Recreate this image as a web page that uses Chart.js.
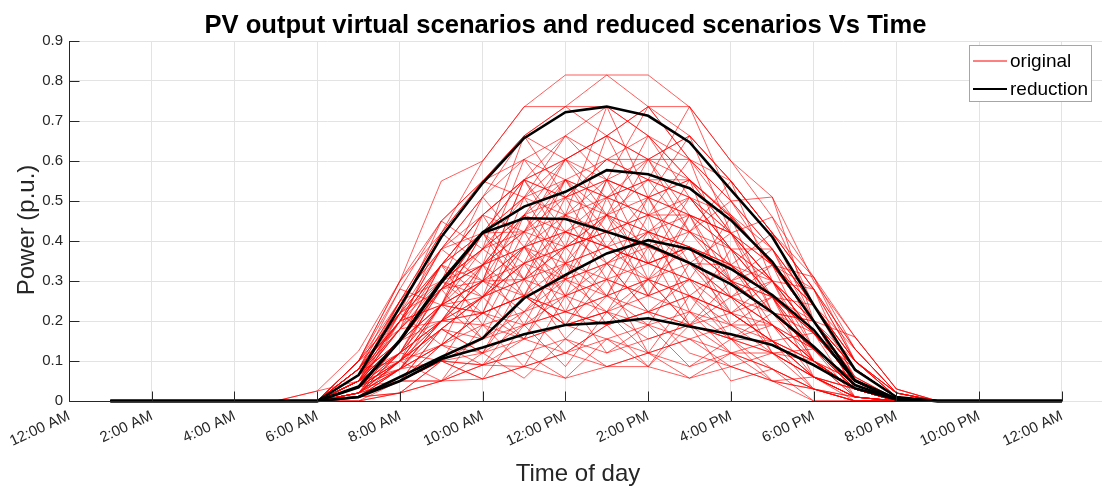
<!DOCTYPE html>
<html>
<head>
<meta charset="utf-8">
<script src="https://cdn.jsdelivr.net/npm/chart.js@4.4.1/dist/chart.umd.min.js"></script>
<style>
  html, body { margin: 0; padding: 0; background: #fff; overflow: hidden; }
  canvas { display: block; }
</style>
</head>
<body>
<canvas id="pv" width="1102" height="487"></canvas>
<script>
const FONT = "'Liberation Sans', Arial, Helvetica, sans-serif";
const AXIS_COLOR = "#262626";
const GRID_COLOR = "#e3e3e3";

const TITLE = "PV output virtual scenarios and reduced scenarios Vs Time";
const X_TITLE = "Time of day";
const Y_TITLE = "Power (p.u.)";

// hour of the day for every sample (1:00 AM ... 12:00 AM next day)
const HOURS = [1, 2, 3, 4, 5, 6, 7, 8, 9, 10, 11, 12, 13, 14, 15, 16, 17, 18, 19, 20, 21, 22, 23, 24];

const X_TICKS = [0, 2, 4, 6, 8, 10, 12, 14, 16, 18, 20, 22, 24];
const X_TICK_LABELS = ["12:00 AM", "2:00 AM", "4:00 AM", "6:00 AM", "8:00 AM", "10:00 AM", "12:00 PM",
  "2:00 PM", "4:00 PM", "6:00 PM", "8:00 PM", "10:00 PM", "12:00 AM"];
const Y_TICKS = [0, 0.1, 0.2, 0.3, 0.4, 0.5, 0.6, 0.7, 0.8, 0.9];
const X_MAX = 24.97; // axes run a bit past midnight, like the original figure

// reduced scenarios (black)
const REDUCTION = [
  [0, 0, 0, 0, 0, 0, 0.065, 0.235, 0.41, 0.545, 0.657, 0.722, 0.736, 0.713, 0.647, 0.528, 0.41, 0.24, 0.078, 0.01, 0, 0, 0, 0],
  [0, 0, 0, 0, 0, 0, 0.036, 0.153, 0.3, 0.422, 0.486, 0.523, 0.577, 0.567, 0.532, 0.452, 0.348, 0.2, 0.052, 0.005, 0, 0, 0, 0],
  [0, 0, 0, 0, 0, 0, 0.034, 0.15, 0.296, 0.42, 0.457, 0.455, 0.423, 0.39, 0.345, 0.292, 0.222, 0.136, 0.04, 0.004, 0, 0, 0, 0],
  [0, 0, 0, 0, 0, 0, 0.01, 0.06, 0.11, 0.157, 0.257, 0.315, 0.369, 0.402, 0.38, 0.33, 0.265, 0.178, 0.05, 0.005, 0, 0, 0, 0],
  [0, 0, 0, 0, 0, 0, 0.01, 0.05, 0.105, 0.134, 0.167, 0.19, 0.196, 0.207, 0.186, 0.167, 0.14, 0.09, 0.032, 0.004, 0, 0, 0, 0],
];

// virtual scenarios (red)
const ORIGINAL = [
  [0, 0, 0, 0, 0, 0, 0.1, 0.3, 0.55, 0.6, 0.735, 0.815, 0.815, 0.815, 0.735, 0.6, 0.51, 0.3, 0.16, 0.03, 0, 0, 0, 0],
  [0, 0, 0, 0, 0, 0.025, 0.125, 0.3, 0.45, 0.55, 0.663, 0.736, 0.815, 0.736, 0.663, 0.55, 0.42, 0.28, 0.13, 0.02, 0, 0, 0, 0],
  [0, 0, 0, 0, 0, 0, 0.08, 0.25, 0.42, 0.6, 0.736, 0.736, 0.663, 0.736, 0.736, 0.6, 0.46, 0.31, 0.16, 0.03, 0, 0, 0, 0],
  [0, 0, 0, 0, 0, 0, 0.065, 0.2, 0.38, 0.51, 0.604, 0.663, 0.736, 0.663, 0.604, 0.5, 0.38, 0.24, 0.1, 0.01, 0, 0, 0, 0],
  [0, 0, 0, 0, 0, 0, 0.05, 0.22, 0.34, 0.465, 0.553, 0.604, 0.663, 0.736, 0.604, 0.465, 0.34, 0.2, 0.08, 0.01, 0, 0, 0, 0],
  [0, 0, 0, 0, 0, 0, 0.1, 0.28, 0.45, 0.55, 0.604, 0.553, 0.604, 0.553, 0.553, 0.42, 0.3, 0.17, 0.05, 0, 0, 0, 0, 0],
  [0, 0, 0, 0, 0, 0, 0.035, 0.15, 0.3, 0.42, 0.509, 0.604, 0.553, 0.509, 0.465, 0.38, 0.26, 0.13, 0.03, 0, 0, 0, 0, 0],
  [0, 0, 0, 0, 0, 0, 0.02, 0.12, 0.24, 0.38, 0.465, 0.509, 0.604, 0.663, 0.553, 0.46, 0.34, 0.2, 0.06, 0.005, 0, 0, 0, 0],
  [0, 0, 0, 0, 0, 0, 0.05, 0.18, 0.28, 0.34, 0.423, 0.553, 0.509, 0.465, 0.509, 0.42, 0.3, 0.17, 0.05, 0, 0, 0, 0, 0],
  [0, 0, 0, 0, 0, 0, 0.08, 0.2, 0.34, 0.465, 0.553, 0.509, 0.465, 0.423, 0.385, 0.3, 0.22, 0.13, 0.03, 0, 0, 0, 0, 0],
  [0, 0, 0, 0, 0, 0, 0.01, 0.08, 0.2, 0.3, 0.385, 0.465, 0.553, 0.604, 0.663, 0.55, 0.42, 0.28, 0.1, 0.02, 0, 0, 0, 0],
  [0, 0, 0, 0, 0, 0, 0.035, 0.1, 0.18, 0.26, 0.344, 0.423, 0.465, 0.553, 0.509, 0.42, 0.34, 0.24, 0.08, 0.01, 0, 0, 0, 0],
  [0, 0, 0, 0, 0, 0, 0.065, 0.15, 0.24, 0.3, 0.304, 0.385, 0.423, 0.385, 0.423, 0.34, 0.26, 0.17, 0.05, 0.005, 0, 0, 0, 0],
  [0, 0, 0, 0, 0, 0, 0.02, 0.1, 0.14, 0.22, 0.263, 0.344, 0.385, 0.344, 0.304, 0.26, 0.19, 0.1, 0.03, 0, 0, 0, 0, 0],
  [0, 0, 0, 0, 0, 0, 0.05, 0.12, 0.2, 0.19, 0.223, 0.263, 0.304, 0.344, 0.385, 0.3, 0.22, 0.13, 0.05, 0, 0, 0, 0, 0],
  [0, 0, 0, 0, 0, 0, 0.01, 0.05, 0.1, 0.155, 0.19, 0.223, 0.263, 0.304, 0.263, 0.22, 0.15, 0.06, 0.01, 0, 0, 0, 0, 0],
  [0, 0, 0, 0, 0, 0, 0.02, 0.08, 0.14, 0.12, 0.155, 0.19, 0.223, 0.19, 0.223, 0.155, 0.12, 0.06, 0.01, 0, 0, 0, 0, 0],
  [0, 0, 0, 0, 0, 0, 0, 0.05, 0.1, 0.09, 0.12, 0.155, 0.12, 0.155, 0.19, 0.12, 0.08, 0.03, 0, 0, 0, 0, 0, 0],
  [0, 0, 0, 0, 0, 0, 0.01, 0.02, 0.05, 0.055, 0.086, 0.057, 0.086, 0.086, 0.057, 0.086, 0.05, 0, 0, 0, 0, 0, 0, 0],
  [0, 0, 0, 0, 0, 0, 0, 0.02, 0.05, 0.09, 0.086, 0.12, 0.155, 0.12, 0.086, 0.12, 0.08, 0.03, 0, 0, 0, 0, 0, 0],
  [0, 0, 0, 0, 0, 0, 0.035, 0.1, 0.2, 0.26, 0.344, 0.304, 0.263, 0.304, 0.344, 0.26, 0.19, 0.1, 0.03, 0, 0, 0, 0, 0],
  [0, 0, 0, 0, 0, 0, 0.05, 0.15, 0.28, 0.38, 0.465, 0.423, 0.385, 0.344, 0.304, 0.22, 0.15, 0.06, 0.01, 0, 0, 0, 0, 0],
  [0, 0, 0, 0, 0, 0, 0.08, 0.22, 0.38, 0.42, 0.423, 0.465, 0.509, 0.465, 0.465, 0.38, 0.3, 0.17, 0.05, 0.005, 0, 0, 0, 0],
  [0, 0, 0, 0, 0, 0, 0.035, 0.12, 0.3, 0.38, 0.509, 0.465, 0.423, 0.465, 0.423, 0.34, 0.26, 0.17, 0.08, 0.01, 0, 0, 0, 0],
  [0, 0, 0, 0, 0, 0, 0.065, 0.18, 0.3, 0.34, 0.385, 0.344, 0.304, 0.263, 0.304, 0.26, 0.19, 0.1, 0.03, 0, 0, 0, 0, 0],
  [0, 0, 0, 0, 0, 0, 0.02, 0.1, 0.24, 0.26, 0.304, 0.263, 0.223, 0.263, 0.223, 0.19, 0.12, 0.06, 0.01, 0, 0, 0, 0, 0],
  [0, 0, 0, 0, 0, 0, 0.01, 0.05, 0.14, 0.22, 0.263, 0.223, 0.19, 0.223, 0.263, 0.22, 0.15, 0.1, 0.03, 0, 0, 0, 0, 0],
  [0, 0, 0, 0, 0, 0, 0.05, 0.1, 0.18, 0.155, 0.223, 0.304, 0.344, 0.423, 0.385, 0.34, 0.26, 0.17, 0.05, 0, 0, 0, 0, 0],
  [0, 0, 0, 0, 0, 0, 0.02, 0.08, 0.1, 0.12, 0.19, 0.263, 0.304, 0.263, 0.304, 0.26, 0.22, 0.13, 0.03, 0, 0, 0, 0, 0],
  [0, 0, 0, 0, 0, 0, 0.035, 0.12, 0.24, 0.3, 0.385, 0.423, 0.344, 0.385, 0.344, 0.3, 0.22, 0.13, 0.03, 0, 0, 0, 0, 0],
  [0, 0, 0, 0, 0, 0, 0.065, 0.2, 0.34, 0.42, 0.509, 0.553, 0.465, 0.509, 0.553, 0.46, 0.34, 0.2, 0.08, 0.01, 0, 0, 0, 0],
  [0, 0, 0, 0, 0, 0, 0.05, 0.18, 0.34, 0.465, 0.553, 0.663, 0.604, 0.604, 0.604, 0.5, 0.38, 0.24, 0.1, 0.02, 0, 0, 0, 0],
  [0, 0, 0, 0, 0, 0, 0.08, 0.25, 0.38, 0.51, 0.663, 0.604, 0.663, 0.604, 0.663, 0.55, 0.42, 0.28, 0.13, 0.02, 0, 0, 0, 0],
  [0, 0, 0, 0, 0, 0, 0.1, 0.25, 0.42, 0.55, 0.663, 0.736, 0.736, 0.663, 0.553, 0.46, 0.34, 0.2, 0.08, 0.01, 0, 0, 0, 0],
  [0, 0, 0, 0, 0, 0, 0.02, 0.12, 0.28, 0.42, 0.553, 0.509, 0.553, 0.509, 0.465, 0.42, 0.3, 0.17, 0.05, 0, 0, 0, 0, 0],
  [0, 0, 0, 0, 0, 0, 0.035, 0.1, 0.2, 0.34, 0.465, 0.553, 0.509, 0.553, 0.509, 0.38, 0.26, 0.1, 0.01, 0, 0, 0, 0, 0],
  [0, 0, 0, 0, 0, 0, 0.01, 0.05, 0.18, 0.26, 0.344, 0.385, 0.423, 0.465, 0.423, 0.38, 0.3, 0.2, 0.05, 0, 0, 0, 0, 0],
  [0, 0, 0, 0, 0, 0, 0.065, 0.15, 0.2, 0.22, 0.19, 0.223, 0.263, 0.223, 0.19, 0.155, 0.12, 0.06, 0.01, 0, 0, 0, 0, 0],
  [0, 0, 0, 0, 0, 0, 0.02, 0.05, 0.05, 0.09, 0.155, 0.19, 0.155, 0.19, 0.155, 0.19, 0.15, 0.1, 0.03, 0, 0, 0, 0, 0],
  [0, 0, 0, 0, 0, 0, 0.01, 0.02, 0.1, 0.055, 0.086, 0.12, 0.19, 0.223, 0.12, 0.086, 0.05, 0.03, 0, 0, 0, 0, 0, 0],
  [0, 0, 0, 0, 0, 0, 0.035, 0.08, 0.14, 0.19, 0.155, 0.12, 0.086, 0.12, 0.155, 0.12, 0.12, 0.06, 0.01, 0, 0, 0, 0, 0],
  [0, 0, 0, 0, 0, 0, 0.05, 0.12, 0.2, 0.26, 0.304, 0.344, 0.385, 0.423, 0.465, 0.42, 0.34, 0.24, 0.1, 0.02, 0, 0, 0, 0],
  [0, 0, 0, 0, 0, 0, 0.08, 0.2, 0.3, 0.38, 0.423, 0.385, 0.423, 0.385, 0.344, 0.34, 0.22, 0.13, 0.05, 0, 0, 0, 0, 0],
  [0, 0, 0, 0, 0, 0, 0.065, 0.22, 0.34, 0.42, 0.553, 0.604, 0.663, 0.604, 0.553, 0.42, 0.3, 0.2, 0.06, 0.005, 0, 0, 0, 0],
  [0, 0, 0, 0, 0, 0, 0.01, 0.1, 0.24, 0.3, 0.344, 0.385, 0.465, 0.423, 0.385, 0.3, 0.26, 0.17, 0.05, 0, 0, 0, 0, 0],
  [0, 0, 0, 0, 0, 0, 0.05, 0.15, 0.24, 0.34, 0.385, 0.423, 0.385, 0.344, 0.385, 0.34, 0.3, 0.2, 0.08, 0.01, 0, 0, 0, 0],
  [0, 0, 0, 0, 0, 0, 0.02, 0.08, 0.2, 0.22, 0.263, 0.304, 0.344, 0.304, 0.263, 0.22, 0.19, 0.13, 0.05, 0, 0, 0, 0, 0],
  [0, 0, 0, 0, 0, 0, 0.1, 0.22, 0.28, 0.3, 0.263, 0.223, 0.19, 0.223, 0.19, 0.155, 0.08, 0.03, 0, 0, 0, 0, 0, 0],
  [0, 0, 0, 0, 0, 0.025, 0.05, 0.15, 0.24, 0.22, 0.263, 0.19, 0.223, 0.155, 0.19, 0.155, 0.15, 0.1, 0.03, 0, 0, 0, 0, 0],
  [0, 0, 0, 0, 0, 0, 0.035, 0.15, 0.28, 0.34, 0.423, 0.509, 0.553, 0.509, 0.553, 0.465, 0.38, 0.24, 0.1, 0.01, 0, 0, 0, 0],
  [0, 0, 0, 0, 0, 0, 0.05, 0.2, 0.24, 0.42, 0.263, 0.465, 0.304, 0.509, 0.344, 0.42, 0.22, 0.2, 0.05, 0, 0, 0, 0, 0],
  [0, 0, 0, 0, 0, 0, 0.02, 0.15, 0.34, 0.19, 0.385, 0.223, 0.423, 0.263, 0.465, 0.26, 0.34, 0.13, 0.05, 0, 0, 0, 0, 0],
  [0, 0, 0, 0, 0, 0, 0.08, 0.1, 0.3, 0.22, 0.465, 0.304, 0.553, 0.344, 0.385, 0.19, 0.26, 0.06, 0.03, 0, 0, 0, 0, 0],
  [0, 0, 0, 0, 0, 0, 0.035, 0.22, 0.14, 0.34, 0.19, 0.385, 0.263, 0.465, 0.223, 0.38, 0.15, 0.17, 0.01, 0, 0, 0, 0, 0],
  [0, 0, 0, 0, 0, 0, 0.065, 0.12, 0.28, 0.155, 0.344, 0.19, 0.304, 0.12, 0.263, 0.155, 0.19, 0.06, 0.03, 0, 0, 0, 0, 0],
  [0, 0, 0, 0, 0, 0, 0.01, 0.08, 0.2, 0.3, 0.553, 0.385, 0.663, 0.465, 0.604, 0.34, 0.42, 0.2, 0.1, 0.01, 0, 0, 0, 0],
  [0, 0, 0, 0, 0, 0, 0.1, 0.18, 0.42, 0.34, 0.604, 0.465, 0.736, 0.509, 0.663, 0.42, 0.46, 0.24, 0.13, 0.02, 0, 0, 0, 0],
  [0, 0, 0, 0, 0, 0, 0.05, 0.25, 0.3, 0.51, 0.385, 0.553, 0.423, 0.604, 0.423, 0.55, 0.3, 0.28, 0.05, 0.005, 0, 0, 0, 0],
  [0, 0, 0, 0, 0, 0, 0.02, 0.05, 0.18, 0.12, 0.304, 0.155, 0.263, 0.19, 0.344, 0.22, 0.26, 0.1, 0.03, 0, 0, 0, 0, 0],
  [0, 0, 0, 0, 0, 0, 0, 0.02, 0.1, 0.055, 0.19, 0.086, 0.223, 0.12, 0.155, 0.086, 0.12, 0.03, 0.01, 0, 0, 0, 0, 0],
  [0, 0, 0, 0, 0, 0, 0.035, 0.1, 0.05, 0.19, 0.086, 0.263, 0.12, 0.19, 0.086, 0.155, 0.05, 0.06, 0, 0, 0, 0, 0, 0],
  [0, 0, 0, 0, 0, 0, 0.065, 0.15, 0.34, 0.26, 0.509, 0.344, 0.465, 0.385, 0.553, 0.3, 0.38, 0.17, 0.08, 0.01, 0, 0, 0, 0],
  [0, 0, 0, 0, 0, 0, 0.08, 0.28, 0.24, 0.465, 0.304, 0.509, 0.344, 0.423, 0.263, 0.34, 0.19, 0.13, 0.03, 0, 0, 0, 0, 0],
  [0, 0, 0, 0, 0, 0, 0.02, 0.12, 0.1, 0.26, 0.155, 0.344, 0.19, 0.304, 0.19, 0.26, 0.12, 0.1, 0.01, 0, 0, 0, 0, 0],
  [0, 0, 0, 0, 0, 0, 0.05, 0.08, 0.24, 0.22, 0.423, 0.263, 0.509, 0.304, 0.385, 0.22, 0.3, 0.13, 0.05, 0, 0, 0, 0, 0],
  [0, 0, 0, 0, 0, 0, 0.035, 0.2, 0.38, 0.3, 0.465, 0.604, 0.465, 0.663, 0.509, 0.465, 0.34, 0.31, 0.1, 0.02, 0, 0, 0, 0],
  [0, 0, 0, 0, 0, 0, 0.1, 0.22, 0.45, 0.38, 0.663, 0.509, 0.604, 0.553, 0.736, 0.5, 0.51, 0.2, 0.16, 0.03, 0, 0, 0, 0],
  [0, 0, 0, 0, 0, 0, 0.01, 0.05, 0.14, 0.09, 0.223, 0.12, 0.19, 0.086, 0.223, 0.12, 0.15, 0.03, 0.01, 0, 0, 0, 0, 0],
  [0, 0, 0, 0, 0, 0, 0.065, 0.18, 0.2, 0.34, 0.263, 0.423, 0.385, 0.304, 0.465, 0.3, 0.34, 0.24, 0.08, 0.01, 0, 0, 0, 0],
  [0, 0, 0, 0, 0, 0, 0.05, 0.15, 0.28, 0.42, 0.344, 0.553, 0.385, 0.509, 0.304, 0.46, 0.22, 0.2, 0.03, 0, 0, 0, 0, 0],
  [0, 0, 0, 0, 0, 0, 0.02, 0.1, 0.24, 0.155, 0.263, 0.19, 0.344, 0.223, 0.304, 0.155, 0.22, 0.1, 0.05, 0, 0, 0, 0, 0],
  [0, 0, 0, 0, 0, 0, 0.035, 0.05, 0.1, 0.09, 0.12, 0.057, 0.155, 0.086, 0.19, 0.05, 0.08, 0, 0, 0, 0, 0, 0, 0],
  [0, 0, 0, 0, 0, 0, 0.08, 0.2, 0.34, 0.3, 0.553, 0.423, 0.509, 0.604, 0.465, 0.42, 0.26, 0.24, 0.06, 0.005, 0, 0, 0, 0],
  [0, 0, 0, 0, 0, 0, 0.01, 0.08, 0.14, 0.22, 0.155, 0.304, 0.223, 0.385, 0.19, 0.3, 0.12, 0.13, 0.01, 0, 0, 0, 0, 0],
  [0, 0, 0, 0, 0, 0, 0.065, 0.25, 0.38, 0.465, 0.423, 0.604, 0.509, 0.553, 0.423, 0.5, 0.34, 0.28, 0.1, 0.01, 0, 0, 0, 0],
  [0, 0, 0, 0, 0, 0, 0.05, 0.12, 0.2, 0.3, 0.223, 0.344, 0.263, 0.423, 0.344, 0.26, 0.3, 0.1, 0.05, 0, 0, 0, 0, 0],
  [0, 0, 0, 0, 0, 0, 0.02, 0.15, 0.3, 0.26, 0.385, 0.304, 0.465, 0.344, 0.509, 0.38, 0.26, 0.2, 0.03, 0, 0, 0, 0, 0],
  [0, 0, 0, 0, 0, 0, 0.035, 0.08, 0.18, 0.12, 0.263, 0.19, 0.223, 0.304, 0.19, 0.22, 0.15, 0.06, 0.03, 0, 0, 0, 0, 0],
  [0, 0, 0, 0, 0, 0, 0.1, 0.3, 0.42, 0.55, 0.509, 0.663, 0.553, 0.736, 0.604, 0.55, 0.42, 0.31, 0.13, 0.02, 0, 0, 0, 0],
  [0, 0, 0, 0, 0, 0, 0.08, 0.22, 0.3, 0.38, 0.304, 0.465, 0.385, 0.344, 0.385, 0.34, 0.22, 0.17, 0.05, 0, 0, 0, 0, 0],
  [0, 0, 0, 0, 0, 0, 0.01, 0.05, 0.05, 0.12, 0.057, 0.155, 0.086, 0.12, 0.057, 0.12, 0.05, 0.03, 0, 0, 0, 0, 0, 0],
  [0, 0, 0, 0, 0, 0, 0.05, 0.18, 0.28, 0.34, 0.465, 0.344, 0.553, 0.423, 0.509, 0.38, 0.38, 0.2, 0.08, 0.01, 0, 0, 0, 0],
  [0, 0, 0, 0, 0, 0, 0.02, 0.1, 0.18, 0.26, 0.385, 0.263, 0.344, 0.223, 0.263, 0.19, 0.19, 0.1, 0.03, 0, 0, 0, 0, 0],
  [0, 0, 0, 0, 0, 0, 0.065, 0.2, 0.24, 0.42, 0.304, 0.385, 0.465, 0.263, 0.423, 0.3, 0.26, 0.13, 0.05, 0, 0, 0, 0, 0],
];

function to_points(vals) {
  return vals.map((v, i) => ({ x: HOURS[i], y: v }));
}

let datasets = REDUCTION.map((vals) => ({
  data: to_points(vals),
  borderColor: "#000000",
  borderWidth: 2.6,
  order: 0,
  clip: false,
}));

ORIGINAL.forEach((vals) => {
  datasets.push({
    data: to_points(vals),
    borderColor: "rgba(255, 0, 0, 0.8)",
    borderWidth: 0.8,
    order: 1,
    clip: false,
  });
});

// axes lines, inward ticks, legend box and the titles, drawn like the MATLAB figure
const matlabLook = {
  id: "matlabLook",
  afterDatasetsDraw(chart) {
    const { ctx, scales: { x, y } } = chart;
    const x0 = Math.round(x.getPixelForValue(0)) + 0.5;
    const xEnd = x.getPixelForValue(24);
    const y0 = Math.round(y.getPixelForValue(0)) + 0.5;
    const yTop = y.getPixelForValue(0.9);

    ctx.save();
    ctx.strokeStyle = AXIS_COLOR;
    ctx.lineWidth = 1;
    ctx.beginPath();
    ctx.moveTo(x0, yTop);
    ctx.lineTo(x0, y0);
    ctx.lineTo(xEnd, y0);
    X_TICKS.forEach((v) => {
      const px = Math.round(x.getPixelForValue(v)) + 0.5;
      ctx.moveTo(px, y0);
      ctx.lineTo(px, y0 - 10);
    });
    Y_TICKS.forEach((v) => {
      const py = Math.round(y.getPixelForValue(v)) + 0.5;
      ctx.moveTo(x0, py);
      ctx.lineTo(x0 + 10, py);
    });
    ctx.stroke();
    ctx.restore();
  },
  afterDraw(chart) {
    const { ctx, chartArea: a, scales: { x, y } } = chart;
    ctx.save();

    // title
    ctx.fillStyle = "#000000";
    ctx.font = `bold 25.6px ${FONT}`;
    ctx.textAlign = "center";
    ctx.textBaseline = "alphabetic";
    ctx.fillText(TITLE, (x.getPixelForValue(0) + x.getPixelForValue(24)) / 2, 33);

    // axis titles
    ctx.fillStyle = AXIS_COLOR;
    ctx.font = `24px ${FONT}`;
    ctx.fillText(X_TITLE, 578, 481);
    ctx.translate(34, (a.top + a.bottom) / 2 + 9);
    ctx.rotate(-Math.PI / 2);
    ctx.fillText(Y_TITLE, 0, 0);
    ctx.setTransform(1, 0, 0, 1, 0, 0);

    // legend
    const lx = a.right - 133, ly = a.top + 4, lw = 122, lh = 56;
    ctx.fillStyle = "#ffffff";
    ctx.fillRect(lx, ly, lw, lh);
    ctx.strokeStyle = "#a6a6a6";
    ctx.lineWidth = 1;
    ctx.strokeRect(lx + 0.5, ly + 0.5, lw, lh);
    const rows = [["original", "#ff0000", 1], ["reduction", "#000000", 2]];
    rows.forEach(([label, color, w], i) => {
      const ry = ly + 16 + i * 28;
      ctx.strokeStyle = color;
      ctx.lineWidth = w;
      ctx.beginPath();
      ctx.moveTo(lx + 4, ry);
      ctx.lineTo(lx + 38, ry);
      ctx.stroke();
      ctx.fillStyle = "#000000";
      ctx.font = `19px ${FONT}`;
      ctx.textAlign = "left";
      ctx.textBaseline = "middle";
      ctx.fillText(label, lx + 41, ry + 1);
    });
    ctx.restore();
  },
};

new Chart(document.getElementById("pv"), {
  type: "line",
  data: { datasets: datasets },
  options: {
    responsive: false,
    animation: false,
    events: [],
    layout: { padding: { top: 41, right: 0, bottom: 0, left: 0 } },
    elements: { point: { radius: 0 }, line: { tension: 0 } },
    plugins: {
      legend: { display: false },
      tooltip: { enabled: false },
      title: { display: false },
    },
    scales: {
      x: {
        type: "linear",
        min: 0,
        max: X_MAX,
        afterBuildTicks: (s) => { s.ticks = X_TICKS.map((v) => ({ value: v })); },
        afterFit: (s) => { s.height = 86; },
        grid: { color: GRID_COLOR, drawTicks: false },
        border: { display: false },
        ticks: {
          autoSkip: false,
          minRotation: 25,
          maxRotation: 25,
          padding: 6,
          color: AXIS_COLOR,
          font: { family: FONT, size: 15 },
          callback: (v) => X_TICK_LABELS[X_TICKS.indexOf(v)],
        },
      },
      y: {
        min: 0,
        max: 0.9,
        afterBuildTicks: (s) => { s.ticks = Y_TICKS.map((v) => ({ value: v })); },
        afterFit: (s) => { s.width = 69; },
        grid: { color: GRID_COLOR, drawTicks: false },
        border: { display: false },
        ticks: {
          padding: 6,
          color: AXIS_COLOR,
          font: { family: FONT, size: 15 },
          callback: (v) => String(v),
        },
      },
    },
  },
  plugins: [matlabLook],
});
</script>
</body>
</html>
